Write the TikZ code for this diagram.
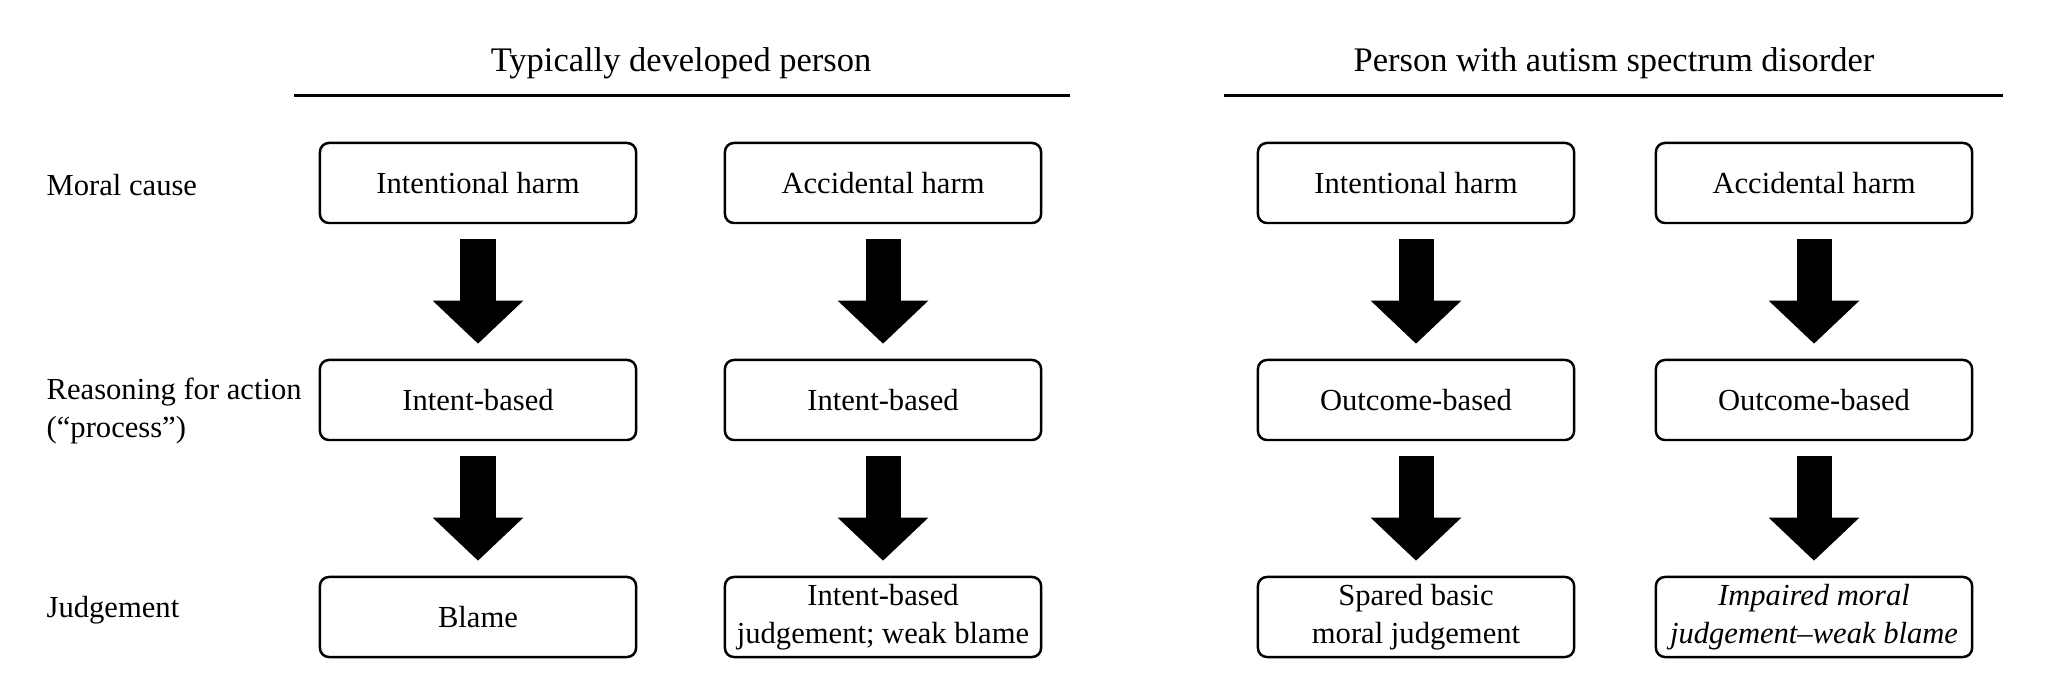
\documentclass[tikz,border=0pt]{standalone}
\usepackage{fontspec}
\setmainfont{Liberation Serif}
\usetikzlibrary{arrows.meta}

\begin{document}
\begin{tikzpicture}%
  [x=0.01cm,y=-0.01cm,
   box/.style={rectangle,rounded corners=0.09cm,draw,line width=0.7pt,
     minimum width=3.16cm,minimum height=0.8cm,inner sep=0,align=center,
     font=\fontsize{8.7}{10.8}\selectfont}]
  \tikzstyle{big arrow}=[line width=0.35cm,-{Triangle[length=0.43cm,width=0.88cm]},
    shorten <=0.15cm,shorten >=0.15cm]
  \tikzstyle{row label}=[anchor=west,align=left,inner sep=0,
    font=\fontsize{8.7}{10.8}\selectfont]
  \tikzstyle{head}=[anchor=base,inner sep=0,font=\fontsize{9.8}{12}\selectfont]
  \useasboundingbox (0,0) rectangle (2046,698);
  % group headings
  \node(th)[head] at (681,72) {Typically developed person};
  \node(ah)[head] at (1614,72) {Person with autism spectrum disorder};
  \draw[line width=0.85pt] (294,96) -- (1070,96);
  \draw[line width=0.85pt] (1224,96) -- (2003,96);
  % row labels
  \node(lc)[row label] at (46,185) {Moral cause};
  \node(lr)[row label] at (46,411) {Reasoning for action\\(“process”)};
  \node(lj)[row label] at (46,610) {Judgement};
  % typically developed
  \node(tic)[box] at (478,183) {Intentional harm};
  \node(tir)[box] at (478,400) {Intent-based};
  \node(tij)[box] at (478,617) {Blame};
  \node(tac)[box] at (883,183) {Accidental harm};
  \node(tar)[box] at (883,400) {Intent-based};
  \node(taj)[box] at (883,617) {Intent-based\\judgement; weak blame};
  % autism spectrum disorder
  \node(aic)[box] at (1416,183) {Intentional harm};
  \node(air)[box] at (1416,400) {Outcome-based};
  \node(aij)[box] at (1416,617) {Spared basic\\moral judgement};
  \node(aac)[box] at (1814,183) {Accidental harm};
  \node(aar)[box] at (1814,400) {Outcome-based};
  \node(aaj)[box] at (1814,617) {\itshape Impaired moral\\\itshape judgement--weak blame};
  \foreach \c in {ti,ta,ai,aa}{
    \draw[big arrow] (\c c) -- (\c r);
    \draw[big arrow] (\c r) -- (\c j);
  }
\end{tikzpicture}
\end{document}
